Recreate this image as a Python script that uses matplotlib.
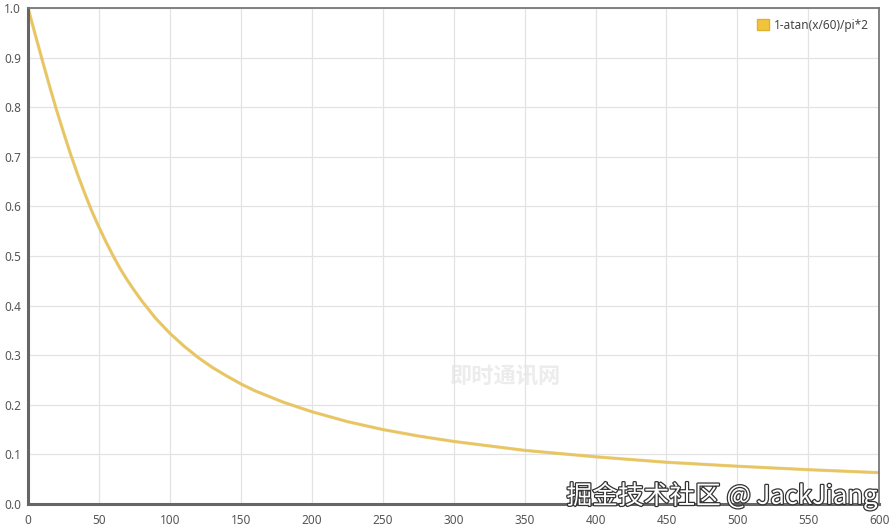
import matplotlib
matplotlib.use("Agg")
import matplotlib.pyplot as plt
import matplotlib.patheffects as pe
from matplotlib.patches import Patch

plt.rcParams['font.family'] = ['Noto Sans', 'Noto Sans CJK SC', 'DejaVu Sans']

# values
x_vals = [0, 5, 10, 15, 20, 25, 30, 35, 40, 45, 50, 55, 60, 65, 70, 75, 80, 90, 100,
          110, 120, 130, 140, 150, 160, 180, 200, 225, 250, 275, 300, 350, 400,
          450, 500, 550, 600]
y_vals = [1.0, 0.947, 0.895, 0.844, 0.795, 0.749, 0.705, 0.664, 0.626, 0.590,
          0.558, 0.528, 0.5, 0.474, 0.451, 0.430, 0.410, 0.374, 0.344,
          0.318, 0.295, 0.275, 0.258, 0.242, 0.228, 0.205, 0.186, 0.166,
          0.150, 0.137, 0.126, 0.108, 0.095, 0.084, 0.076, 0.069, 0.063]
series_name = "1-atan(x/60)/pi*2"
x_ticks = list(range(0, 601, 50))
y_ticks = [i / 10 for i in range(11)]

line_color = "#e8c55e"

fig = plt.figure(figsize=(8.96, 5.31), dpi=100)
ax = fig.add_axes([0.0313, 0.051, 0.950, 0.934])

ax.plot(x_vals, y_vals, color=line_color, linewidth=1.8, solid_capstyle='round',
        path_effects=[pe.Stroke(linewidth=2.4, foreground="#d9b24a", alpha=0.45), pe.Normal()])

ax.set_xlim(0, 600)
ax.set_ylim(0, 1.0)
ax.set_xticks(x_ticks)
ax.set_yticks(y_ticks)
ax.set_yticklabels([f"{v:.1f}" for v in y_ticks])
ax.grid(True, color="#e3e3e3", linewidth=0.9)
ax.set_axisbelow(True)
ax.tick_params(length=0, labelsize=8.5, labelcolor="#555555")
ax.tick_params(axis='x', pad=7)
ax.tick_params(axis='y', pad=5)

for side in ['top', 'right']:
    ax.spines[side].set_color("#777777")
    ax.spines[side].set_linewidth(1.3)
for side in ['left', 'bottom']:
    ax.spines[side].set_color("#666666")
    ax.spines[side].set_linewidth(2.2)

handle = Patch(facecolor="#f0c43c", edgecolor="#e0b030", label=series_name)
leg = ax.legend(handles=[handle], loc='upper right', frameon=False, fontsize=8.5,
                handlelength=1.0, handleheight=1.0, handletextpad=0.4,
                borderaxespad=0.5)
for t in leg.get_texts():
    t.set_color("#444444")

# faint watermark in the middle
ax.text(0.56, 0.255, "即时通讯网", transform=ax.transAxes, fontsize=16,
        color="#ececec", ha='center', va='center', fontweight='bold', zorder=0)

# site watermark bottom right
fig.text(0.980, 0.066, "掘金技术社区 @ JackJiang", fontsize=18.5, color="white",
         ha='right', va='center', family=['Noto Sans CJK SC', 'DejaVu Sans'],
         path_effects=[pe.Stroke(linewidth=1.8, foreground="#333333"), pe.Normal()])

fig.savefig("out.png", dpi=100)
